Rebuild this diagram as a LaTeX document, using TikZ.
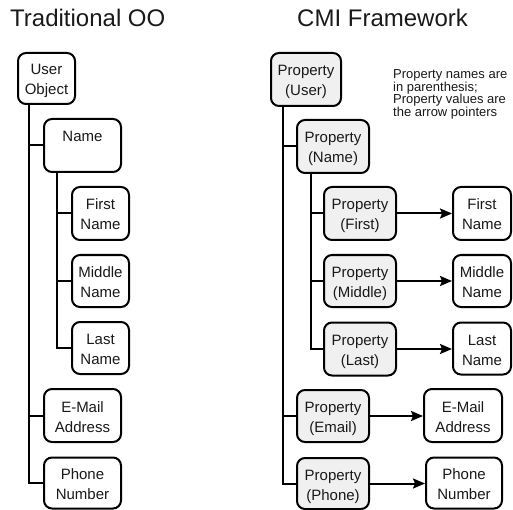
\documentclass[tikz,border=0pt]{standalone}
\usepackage{fontspec}
\setmainfont{Liberation Sans}
\usetikzlibrary{arrows.meta}
\newcommand{\mystrut}{\rule[-3.5pt]{0pt}{20pt}}
\begin{document}
\begin{tikzpicture}[x=1pt,y=-1pt,
  box/.style={draw, line width=2pt, rounded corners=8pt, align=center, inner sep=0pt,
    font=\fontsize{15}{20}\selectfont, text=black!90},
  prop/.style={box, fill=gray!12},
  conn/.style={line width=2pt},
  arr/.style={line width=2pt, -{Stealth[length=12pt,width=10pt,inset=2pt]}},
  title/.style={anchor=base west, inner sep=0pt, font=\fontsize{24}{28}\selectfont, text=black!90}]
\useasboundingbox (0,0) rectangle (513,510);
% titles
\node[title] (t1) at (10,27) {Traditional OO};
\node[title] (t2) at (297,27) {CMI Framework};
% left tree
\node[box, minimum width=57pt, minimum height=51pt] (uo) at (46.5,78.5) {\mystrut User\\\mystrut Object};
\node[box, minimum width=77pt, minimum height=53pt] (name) at (82.5,145.5) {\mystrut Name\\\mystrut};
\node[box, minimum width=57pt, minimum height=53pt] (first) at (100.5,213.5) {\mystrut First\\\mystrut Name};
\node[box, minimum width=57pt, minimum height=52pt] (middle) at (100.5,281) {\mystrut Middle\\\mystrut Name};
\node[box, minimum width=57pt, minimum height=52pt] (last) at (100.5,348) {\mystrut Last\\\mystrut Name};
\node[box, minimum width=77pt, minimum height=53pt] (email) at (82.5,415.5) {\mystrut E-Mail\\\mystrut Address};
\node[box, minimum width=77pt, minimum height=51pt] (phone) at (82.5,483) {\mystrut Phone\\\mystrut Number};
\coordinate (lx1) at (29,0);
\coordinate (lx2) at (57,0);
\draw[conn] (lx1 |- uo.south) |- (phone.west);
\draw[conn] (lx1 |- name.west) -- (name.west);
\draw[conn] (lx1 |- email.west) -- (email.west);
\draw[conn] (lx2 |- name.south) |- (last.west);
\draw[conn] (lx2 |- first.west) -- (first.west);
\draw[conn] (lx2 |- middle.west) -- (middle.west);
% right tree
\node[prop, minimum width=70pt, minimum height=53pt] (pu) at (306,79.5) {\mystrut Property\\\mystrut (User)};
\node[prop, minimum width=72pt, minimum height=53pt] (pn) at (333,146.5) {\mystrut Property\\\mystrut (Name)};
\node[prop, minimum width=72pt, minimum height=53pt] (pf) at (360,213.5) {\mystrut Property\\\mystrut (First)};
\node[prop, minimum width=72pt, minimum height=52pt] (pm) at (360,281) {\mystrut Property\\\mystrut (Middle)};
\node[prop, minimum width=72pt, minimum height=53pt] (pl) at (360,349) {\mystrut Property\\\mystrut (Last)};
\node[prop, minimum width=72pt, minimum height=52pt] (pe) at (333,416) {\mystrut Property\\\mystrut (Email)};
\node[prop, minimum width=72pt, minimum height=51pt] (pp) at (333,483.5) {\mystrut Property\\\mystrut (Phone)};
\node[box, minimum width=58pt, minimum height=53pt] (vf) at (482,213.5) {\mystrut First\\\mystrut Name};
\node[box, minimum width=58pt, minimum height=52pt] (vm) at (482,281) {\mystrut Middle\\\mystrut Name};
\node[box, minimum width=58pt, minimum height=52pt] (vl) at (482,348.5) {\mystrut Last\\\mystrut Name};
\node[box, minimum width=78pt, minimum height=53pt] (ve) at (463,415.5) {\mystrut E-Mail\\\mystrut Address};
\node[box, minimum width=76pt, minimum height=51pt] (vp) at (464,483) {\mystrut Phone\\\mystrut Number};
\coordinate (rx1) at (283,0);
\coordinate (rx2) at (311,0);
\draw[conn] (rx1 |- pu.south) |- (pp.west);
\draw[conn] (rx1 |- pn.west) -- (pn.west);
\draw[conn] (rx1 |- pe.west) -- (pe.west);
\draw[conn] (rx2 |- pn.south) |- (pl.west);
\draw[conn] (rx2 |- pf.west) -- (pf.west);
\draw[conn] (rx2 |- pm.west) -- (pm.west);
\draw[arr] (pf.east) -- (vf.west |- pf.east);
\draw[arr] (pm.east) -- (vm.west |- pm.east);
\draw[arr] (pl.east) -- (vl.west |- pl.east);
\draw[arr] (pe.east) -- (ve.west |- pe.east);
\draw[arr] (pp.east) -- (vp.west |- pp.east);
% note
\node[anchor=north west, inner sep=0pt, align=left, font=\fontsize{13}{12.5}\selectfont, text=black!90] (note) at (393,69.5)
  {Property names are\\in parenthesis;\\Property values are\\the arrow pointers};
\end{tikzpicture}
\end{document}
